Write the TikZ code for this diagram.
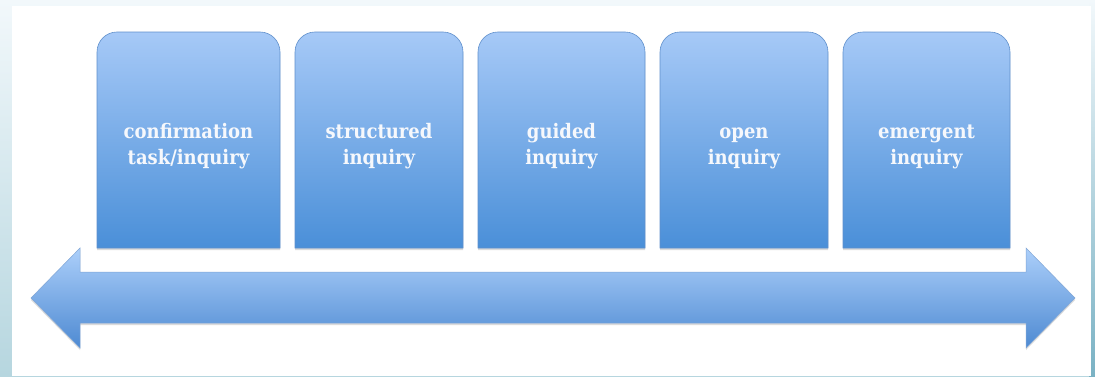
\documentclass[tikz,border=0pt]{standalone}
\usepackage{fontspec}
\newfontfamily\labelfont{DejaVu Serif Condensed}
\usetikzlibrary{shadows}
\definecolor{boxtop}{RGB}{166,201,247}
\definecolor{boxbot}{RGB}{74,143,216}
\definecolor{boxline}{RGB}{96,144,204}
\definecolor{arrtop}{RGB}{172,207,250}
\definecolor{arrbot}{RGB}{78,138,210}
\definecolor{bgtop}{RGB}{242,248,251}
\definecolor{bgbot}{RGB}{182,214,223}
\definecolor{rstripbot}{RGB}{122,178,196}
\definecolor{labelcol}{RGB}{246,248,252}

\tikzset{
  stageshape/.style={shade, top color=boxtop, bottom color=boxbot,
    draw=boxline, line width=0.6pt,
    drop shadow={shadow xshift=0pt, shadow yshift=-2pt, opacity=0.28}},
  stagelabel/.style={text=labelcol, font=\labelfont\bfseries\fontsize{20}{26}\selectfont,
    align=center, inner sep=0pt},
  scaleshape/.style={shade, top color=arrtop, bottom color=arrbot,
    draw=boxline!80, line width=0.5pt,
    drop shadow={shadow xshift=0pt, shadow yshift=-2pt, opacity=0.28}},
}

% one stage box: left x, right x, node name, two label lines
\newcommand\inqbox[5]{%
  \path[stageshape] (#1,128) -- (#1,324)
    arc[start angle=180, end angle=90, radius=20] -- (#2-20,344)
    arc[start angle=90, end angle=0, radius=20] -- (#2,128) -- cycle;
  \node[stagelabel] (#3) at ({(#1+#2)/2},230) {\strut#4\\\strut#5};
}

\begin{document}
\begin{tikzpicture}[x=1pt, y=1pt]
  \useasboundingbox (0,0) rectangle (1095,376);
  % slide background with its light frame
  \shade[top color=bgtop, bottom color=bgbot] (0,0) rectangle (1095,376);
  \shade[top color=bgtop, bottom color=rstripbot] (1089,0) rectangle (1095,376);
  \fill[white] (12,0) rectangle (1091,370);

  % double-headed scale arrow
  \coordinate (lt) at (31,78);
  \coordinate (rt) at (1075,78);
  \path[scaleshape] (lt) -- (80,128) -- (80,104) -- (1026,104) -- (1026,128)
    -- (rt) -- (1026,28) -- (1026,53) -- (80,53) -- (80,28) -- cycle;

  % the five stages
  \inqbox{97}{280}{confirm}{confirmation}{task/inquiry}
  \inqbox{295}{463}{structured}{structured}{inquiry}
  \inqbox{478}{645}{guided}{guided}{inquiry}
  \inqbox{660}{828}{open}{open}{inquiry}
  \inqbox{843}{1010}{emergent}{emergent}{inquiry}
\end{tikzpicture}
\end{document}
